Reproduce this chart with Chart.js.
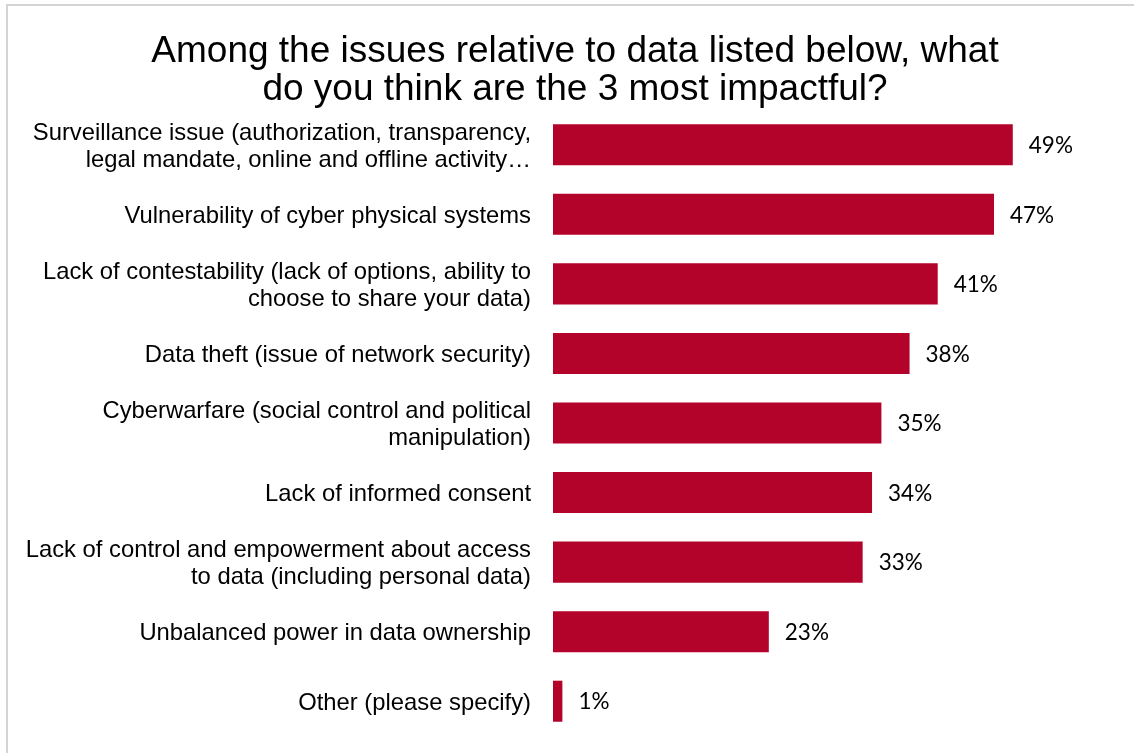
<!DOCTYPE html>
<html lang="en">

<head>
  <meta charset="UTF-8" />
  <title>Most impactful data issues</title>
  <script src="https://cdn.jsdelivr.net/npm/chart.js"></script>
  <style>
    html,
    body {
      margin: 0;
      padding: 0;
      background-color: #fff;
    }

    #issuesChart {
      display: block;
    }
  </style>
</head>

<body>
  <canvas id="issuesChart" width="1134" height="753"></canvas>

  <script>
    // Answers, top to bottom
    const issues = [
      ['Surveillance issue (authorization, transparency,', 'legal mandate, online and offline activity\u2026'],
      'Vulnerability of cyber physical systems',
      ['Lack of contestability (lack of options, ability to', 'choose to share your data)'],
      'Data theft (issue of network security)',
      ['Cyberwarfare (social control and political', 'manipulation)'],
      'Lack of informed consent',
      ['Lack of control and empowerment about access', 'to data (including personal data)'],
      'Unbalanced power in data ownership',
      'Other (please specify)'
    ];
    const shares = [49, 47, 41, 38, 35, 34, 33, 23, 1];
    const titleLines = [
      'Among the issues relative to data listed below, what',
      'do you think are the 3 most impactful?'
    ];

    const barColor = '#b4032a';
    const textFont = '"Liberation Sans", Arial, sans-serif';

    // light grey frame line along the top and left edges
    const framePlugin = {
      id: 'frame',
      beforeDraw(chart) {
        const c = chart.ctx;
        c.save();
        c.strokeStyle = '#d4d4d4';
        c.lineWidth = 2;
        c.beginPath();
        c.moveTo(7, chart.height);
        c.lineTo(7, 5);
        c.lineTo(chart.width, 5);
        c.stroke();
        c.restore();
      }
    };

    // long category labels reach into the left padding, so let the
    // label clip box start at the canvas edge
    const wideLabels = {
      id: 'wideLabels',
      afterLayout(chart) {
        chart.scales.y.left = 0;
      }
    };

    // percentage next to the end of each bar
    const valueLabels = {
      id: 'valueLabels',
      afterDatasetsDraw(chart) {
        const c = chart.ctx;
        const meta = chart.getDatasetMeta(0);
        c.save();
        c.font = '22.5px Lato, "Open Sans", sans-serif';
        c.fillStyle = '#000';
        c.textAlign = 'left';
        c.textBaseline = 'middle';
        meta.data.forEach((bar, i) => {
          c.fillText(shares[i] + '%', bar.x + 16, bar.y + 1);
        });
        c.restore();
      }
    };

    const ctx = document.getElementById('issuesChart').getContext('2d');

    const issuesChart = new Chart(ctx, {
      type: 'bar',
      data: {
        labels: issues,
        datasets: [{
          data: shares,
          backgroundColor: barColor,
          borderWidth: 0,
          categoryPercentage: 1,
          barPercentage: 0.59
        }]
      },
      options: {
        indexAxis: 'y',
        responsive: false,
        animation: false,
        devicePixelRatio: 1,
        layout: {
          padding: { left: 34, right: 18, top: 0, bottom: 17 }
        },
        scales: {
          x: {
            display: false,
            min: 0,
            max: 60
          },
          y: {
            grid: { display: false, drawTicks: false },
            border: { display: false },
            ticks: {
              color: '#000',
              padding: 22,
              labelOffset: 2,
              font: { family: textFont, size: 23.8, lineHeight: 27 / 23.8 }
            },
            afterFit(scale) {
              // fixed label column; no extra room above/below the bars
              scale.width = 519;
              scale.paddingTop = 0;
              scale.paddingBottom = 0;
            }
          }
        },
        plugins: {
          legend: { display: false },
          tooltip: { enabled: false },
          title: {
            display: true,
            text: titleLines,
            color: '#000',
            font: { family: textFont, size: 37, weight: 'normal', lineHeight: 38 / 37 },
            padding: { top: 33, bottom: 1 }
          }
        }
      },
      plugins: [framePlugin, wideLabels, valueLabels]
    });
  </script>
</body>

</html>
